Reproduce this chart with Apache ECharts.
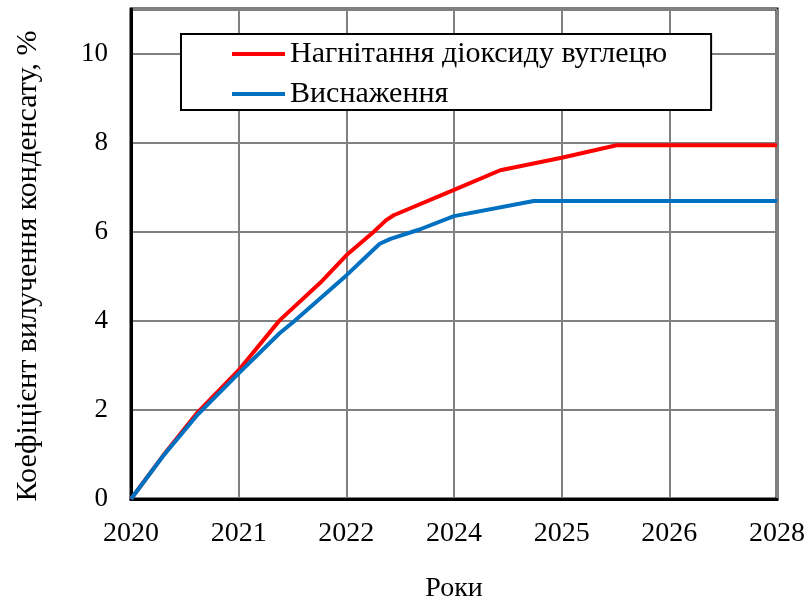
<!DOCTYPE html>
<html>
<head>
<meta charset="utf-8">
<script src="https://cdn.jsdelivr.net/npm/echarts@6/dist/echarts.min.js"></script>
<style>
  html, body { margin: 0; padding: 0; background: #fff; }
  #chart { width: 809px; height: 603px; }
</style>
</head>
<body>
<div id="chart"></div>
<script>
// tick labels along the x axis (as printed on the original)
const yearLabels = ['2020', '2021', '2022', '2024', '2025', '2026', '2028']

// [x position on the year axis, recovery %]
const co2Injection = [
  [0, 0], [0.3, 0.98], [0.61, 1.92], [1, 2.89], [1.38, 4.01], [1.76, 4.86],
  [2, 5.47], [2.25, 5.99], [2.37, 6.26], [2.44, 6.37], [3, 6.94],
  [3.43, 7.38], [4, 7.66], [4.51, 7.94], [6, 7.94]
]
const depletion = [
  [0, 0], [0.3, 0.97], [0.61, 1.87], [1, 2.82], [1.38, 3.72], [1.51, 3.98],
  [2, 5.02], [2.31, 5.73], [2.41, 5.84], [2.68, 6.05], [3, 6.35],
  [3.74, 6.69], [6, 6.69]
]

const seriesNames = ['Нагнітання діоксиду вуглецю', 'Виснаження']
const font = 'Liberation Serif'

const chart = echarts.init(document.getElementById('chart'))
chart.setOption({
  animation: false,
  color: ['#ff0000', '#0070c0'],
  grid: {
    left: 131,
    right: 32,
    top: 9,
    bottom: 104,
    outerBoundsMode: 'none',
    containLabel: false,
    show: true,
    borderColor: '#000',
    borderWidth: 3
  },
  legend: {
    orient: 'vertical',
    left: 181,
    top: 34,
    padding: [5, 44, 1, 51],
    itemGap: 10,
    itemWidth: 53,
    itemHeight: 4,
    icon: 'path://M0,0 H53 V4 H0 Z',
    backgroundColor: '#fff',
    borderColor: '#000',
    borderWidth: 2,
    borderRadius: 0,
    textStyle: { fontFamily: font, fontSize: 30, color: '#000' },
    data: seriesNames
  },
  xAxis: {
    type: 'value',
    min: 0,
    max: 6,
    interval: 1,
    name: 'Роки',
    nameLocation: 'middle',
    nameGap: 76,
    nameTextStyle: { fontFamily: font, fontSize: 28, color: '#000' },
    axisLine: { lineStyle: { color: '#000', width: 3 } },
    axisTick: { show: false },
    axisLabel: {
      margin: 21,
      fontFamily: font,
      fontSize: 28,
      color: '#000',
      formatter: v => yearLabels[v] || ''
    },
    splitLine: { lineStyle: { color: '#808080', width: 2 } }
  },
  yAxis: {
    type: 'value',
    min: 0,
    max: 11,
    interval: 2,
    name: 'Коефіцієнт вилучення конденсату, %',
    nameLocation: 'middle',
    nameGap: 88,
    nameTextStyle: { fontFamily: font, fontSize: 30, color: '#000', padding: [0, 24, 0, 0] },
    axisLine: { lineStyle: { color: '#000', width: 3 } },
    axisTick: { show: false },
    axisLabel: {
      margin: 23,
      fontFamily: font,
      fontSize: 27,
      color: '#000',
      formatter: v => (v > 10 ? '' : v)
    },
    splitLine: { lineStyle: { color: '#808080', width: 2 } }
  },
  series: [
    {
      name: seriesNames[0],
      type: 'line',
      symbol: 'none',
      lineStyle: { width: 4 },
      data: co2Injection
    },
    {
      name: seriesNames[1],
      type: 'line',
      symbol: 'none',
      lineStyle: { width: 4 },
      data: depletion
    }
  ]
})
</script>
</body>
</html>
